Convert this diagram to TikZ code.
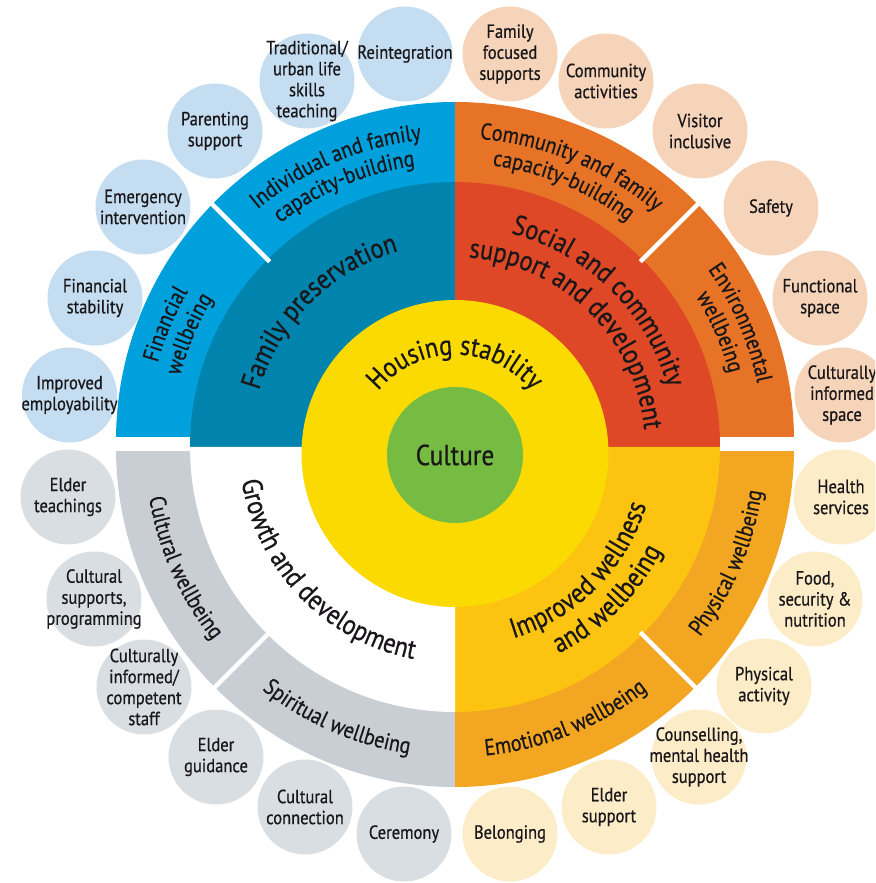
\documentclass[tikz,border=0pt]{standalone}
\usepackage{fontspec}
\setmainfont{PT Sans}[FakeStretch=0.87,FakeBold=0.6]
\usetikzlibrary{decorations.text}
\definecolor{blueO}{RGB}{0,160,220}
\definecolor{blueI}{RGB}{0,131,172}
\definecolor{orangeO}{RGB}{230,115,38}
\definecolor{redI}{RGB}{222,72,38}
\definecolor{amberO}{RGB}{242,166,33}
\definecolor{yellowI}{RGB}{252,196,17}
\definecolor{grayO}{RGB}{200,206,212}
\definecolor{yellowC}{RGB}{250,218,0}
\definecolor{greenC}{RGB}{118,188,67}
\definecolor{bubBlue}{RGB}{197,221,241}
\definecolor{bubPeach}{RGB}{246,212,186}
\definecolor{bubYellow}{RGB}{253,236,200}
\definecolor{bubGray}{RGB}{217,222,226}
\definecolor{txt}{RGB}{25,23,25}
\newcommand\cwlabel[5]{%
  \path[decorate,decoration={text along path,text align=center,
    text color=txt,text={|\fontsize{#4}{#4}\selectfont|#5}}]
    ({#1+#3}:#2) arc[start angle={#1+#3},end angle={#1-#3},radius=#2];}
\newcommand\ccwlabel[5]{%
  \path[decorate,decoration={text along path,text align=center,
    text color=txt,text={|\fontsize{#4}{#4}\selectfont|#5}}]
    ({#1-#3}:#2) arc[start angle={#1-#3},end angle={#1+#3},radius=#2];}
\newcommand\bubble[5]{%
  \node[bubble,fill=#4] (#1) at (#2,#3) {};
  \node[bubtext] (#1t) at (#1) {#5};}
\tikzset{
  bubble/.style={circle,minimum size=95,inner sep=0,draw=none},
  bubtext/.style={align=center,inner sep=0,text=txt,font=\fontsize{19}{21}\selectfont},
  sep/.style={white,line width=4.5}
}
\begin{document}
\begin{tikzpicture}[x=1pt,y=1pt]
\useasboundingbox (-455,-436) rectangle (420,447);
\clip (-455,-436) rectangle (420,447);
% outer ring
\begin{scope}\clip (-460,10) rectangle (0,460); \fill[blueO] (0,6) circle (339); \end{scope}
\begin{scope}\clip (0,10) rectangle (460,460); \fill[orangeO] (0,6) circle (339); \end{scope}
\begin{scope}\clip (-460,-5) rectangle (0,-460); \fill[grayO] (0,-1) circle (339); \end{scope}
\begin{scope}\clip (0,-5) rectangle (460,-460); \fill[amberO] (0,-1) circle (339); \end{scope}
% inner ring
\fill[blueI] (0,0) -- (180:265) arc[start angle=180,end angle=90,radius=265] -- cycle;
\fill[redI] (0,0) -- (90:265) arc[start angle=90,end angle=0,radius=265] -- cycle;
\fill[yellowI] (0,0) -- (0:265) arc[start angle=0,end angle=-90,radius=265] -- cycle;
\fill[white] (0,0) -- (-90:265) arc[start angle=-90,end angle=-180,radius=265] -- cycle;
% separators
\foreach \a in {45,135,-45,-135} \draw[sep] (\a:262) -- (\a:350);
% centre
\fill[yellowC] (0,-6.5) circle (153.5);
\node[circle,fill=greenC,minimum size=136,inner sep=0,text=txt,font=\fontsize{29}{29}\selectfont] (culture) at (0,-8) {Culture};
\begin{scope}[shift={(0,-6.5)}]
\cwlabel{90}{99}{85}{28}{Housing stability}
\end{scope}
% inner ring labels
\cwlabel{135}{204}{60}{28}{Family preservation}
\cwlabel{45.5}{221}{60}{28}{Social and community}
\cwlabel{45.5}{190}{70}{28}{support and development}
\ccwlabel{-45}{200}{60}{28}{Improved wellness}
\ccwlabel{-45}{231}{60}{28}{and wellbeing}
\ccwlabel{-136}{216}{60}{28}{Growth and development}
% outer ring labels
\cwlabel{113}{309}{40}{23}{Individual and family}
\cwlabel{113}{284}{40}{23}{capacity-building}
\cwlabel{157}{309}{40}{23}{Financial}
\cwlabel{157}{284}{40}{23}{wellbeing}
\cwlabel{67.5}{309}{40}{23}{Community and family}
\cwlabel{67.5}{284}{40}{23}{capacity-building}
\cwlabel{23.5}{309}{40}{23}{Environmental}
\cwlabel{23.5}{284}{40}{23}{wellbeing}
\ccwlabel{-23}{310}{40}{23}{Physical wellbeing}
\ccwlabel{-68}{310}{40}{23}{Emotional wellbeing}
\ccwlabel{-113.5}{310}{40}{23}{Spiritual wellbeing}
\ccwlabel{-156}{310}{40}{23}{Cultural wellbeing}
% bubbles
\bubble{b1}{-385.5}{52}{bubBlue}{Improved\\employability}
\bubble{b2}{-360}{149}{bubBlue}{Financial\\stability}
\bubble{b3}{-312}{240}{bubBlue}{Emergency\\intervention}
\bubble{b4}{-240}{316}{bubBlue}{Parenting\\support}
\bubble{b5}{-148}{366}{bubBlue}{Traditional/\\urban life\\skills\\teaching}
\bubble{b6}{-50}{393}{bubBlue}{Reintegration}
\bubble{b7}{55}{393}{bubPeach}{Family\\focused\\supports}
\bubble{b8}{151}{366}{bubPeach}{Community\\activities}
\bubble{b9}{245}{316}{bubPeach}{Visitor\\inclusive}
\bubble{b10}{316}{239}{bubPeach}{Safety}
\bubble{b11}{365}{149}{bubPeach}{Functional\\space}
\bubble{b12}{387}{52}{bubPeach}{Culturally\\informed\\space}
\bubble{b13}{386}{-50}{bubYellow}{Health\\services}
\bubble{b14}{360}{-152}{bubYellow}{Food,\\security \&\\nutrition}
\bubble{b15}{309}{-239}{bubYellow}{Physical\\activity}
\bubble{b16}{244}{-310}{bubYellow}{Counselling,\\mental health\\support}
\bubble{b17}{154}{-360}{bubYellow}{Elder\\support}
\bubble{b18}{55}{-387}{bubYellow}{Belonging}
\bubble{b19}{-51}{-387}{bubGray}{Ceremony}
\bubble{b20}{-150}{-360}{bubGray}{Cultural\\connection}
\bubble{b21}{-239}{-310}{bubGray}{Elder\\guidance}
\bubble{b22}{-311}{-240}{bubGray}{Culturally\\informed/\\competent\\staff}
\bubble{b23}{-361}{-152}{bubGray}{Cultural\\supports,\\programming}
\bubble{b24}{-387}{-50}{bubGray}{Elder\\teachings}
\end{tikzpicture}
\end{document}
